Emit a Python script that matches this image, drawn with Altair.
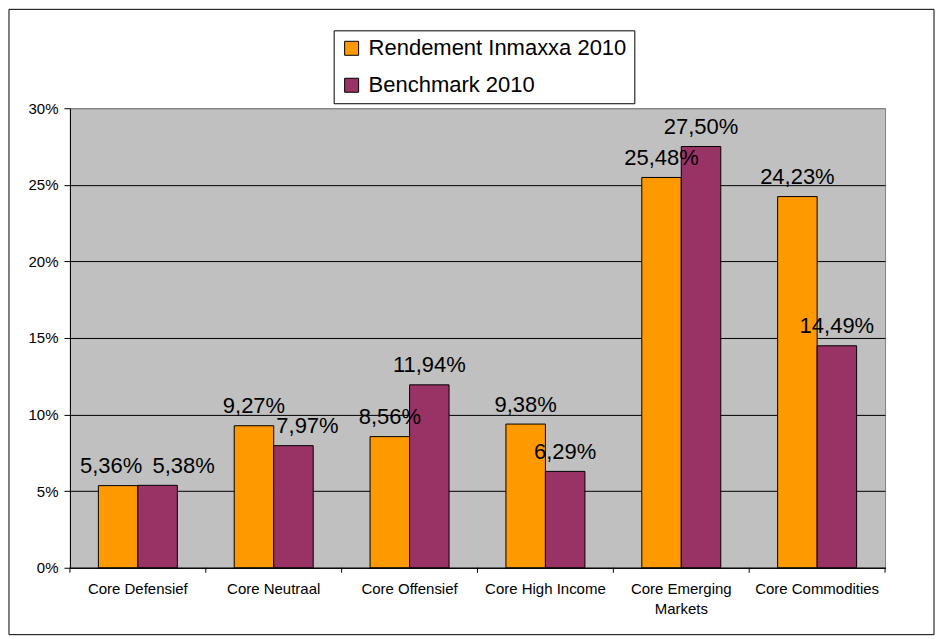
import altair as alt
import pandas as pd

categories = ["Core Defensief", "Core Neutraal", "Core Offensief",
              "Core High Income", "Core Emerging Markets", "Core Commodities"]
series = ["Rendement Inmaxxa 2010", "Benchmark 2010"]
rendement = [5.36, 9.27, 8.56, 9.38, 25.48, 24.23]
benchmark = [5.38, 7.97, 11.94, 6.29, 27.50, 14.49]
colors = ["#FF9900", "#993366"]
y_ticks = [0, 5, 10, 15, 20, 25, 30]

# manual label nudges (px), as in the original where some labels were moved
label_nudge = {
    "Core Defensief|Rendement Inmaxxa 2010": -7,
    "Core Defensief|Benchmark 2010": 26,
    "Core Neutraal|Benchmark 2010": 14,
}

rows = []
for c, r, b in zip(categories, rendement, benchmark):
    rows.append({"cat": c, "series": series[0], "value": r})
    rows.append({"cat": c, "series": series[1], "value": b})
df = pd.DataFrame(rows)
df["key"] = df["cat"] + "|" + df["series"]
catdf = pd.DataFrame({"cat": categories})

W, H = 816, 460
FONT = "Liberation Sans"

x_enc = alt.X(
    "cat:N", sort=categories,
    scale=alt.Scale(paddingInner=0, paddingOuter=0),
    axis=alt.Axis(
        title=None, labelAngle=0, ticks=False, domain=True, domainColor="black",
        labelFontSize=15, labelFont=FONT, labelColor="black", labelPadding=14,
        labelLineHeight=20, labelLimit=0, grid=False,
        labelExpr="datum.label == 'Core Emerging Markets' ? ['Core Emerging', 'Markets'] : datum.label",
    ),
)
xoff_enc = alt.XOffset(
    "series:N", sort=series,
    scale=alt.Scale(domain=series, paddingInner=0, paddingOuter=0.72),
)
y_enc = alt.Y(
    "value:Q", stack=None,
    scale=alt.Scale(domain=[0, 30], nice=False),
    axis=alt.Axis(
        values=y_ticks, title=None, labelExpr="datum.value + '%'",
        labelFontSize=15, labelFont=FONT, labelColor="black",
        tickSize=6, tickColor="black", domainColor="black", labelPadding=6,
        grid=True, gridWidth=1,
        gridColor={"condition": {"test": "datum.value == 30", "value": "#808080"}, "value": "#000000"},
    ),
)
color_enc = alt.Color(
    "series:N", sort=series,
    scale=alt.Scale(domain=series, range=colors),
    legend=alt.Legend(
        title=None, orient="none", legendX=264, legendY=-78, direction="vertical",
        strokeColor="black", fillColor="white", padding=7,
        symbolType="square", symbolSize=196, symbolStrokeColor="black",
        symbolStrokeWidth=1, labelFontSize=22, labelFont=FONT, labelColor="black",
        rowPadding=15, labelOffset=6, labelLimit=0,
    ),
)

frame = alt.Chart(pd.DataFrame({"a": [0]})).mark_rect(
    fillOpacity=0, stroke="black", strokeWidth=1
).encode(
    x=alt.value(-61), x2=alt.value(865), y=alt.value(-99), y2=alt.value(527)
)

bars = alt.Chart(df).mark_bar(stroke="black", strokeWidth=1).encode(
    x=x_enc, xOffset=xoff_enc, y=y_enc, color=color_enc
)

base_text = alt.Chart(df).transform_calculate(
    label="replace(format(datum.value, '.2f'), '.', ',') + '%'"
)
keys = list(label_nudge.keys())
keys_js = "[" + ",".join("'" + k + "'" for k in keys) + "]"
text_main = base_text.transform_filter(f"indexof({keys_js}, datum.key) < 0").mark_text(
    fontSize=22, font=FONT, color="black", baseline="alphabetic", dy=-12.5
).encode(
    x=alt.X("cat:N", sort=categories), xOffset=alt.XOffset("series:N", sort=series),
    y=alt.Y("value:Q", stack=None), text="label:N"
)
text_layers = [text_main]
for k, d in label_nudge.items():
    text_layers.append(
        base_text.transform_filter(f"datum.key == '{k}'").mark_text(
            fontSize=22, font=FONT, color="black", baseline="alphabetic", dy=-12.5, dx=d
        ).encode(
            x=alt.X("cat:N", sort=categories), xOffset=alt.XOffset("series:N", sort=series),
            y=alt.Y("value:Q", stack=None), text="label:N"
        )
    )

ticks0 = alt.Chart(catdf).mark_rule(color="black", strokeWidth=1).encode(
    x=alt.X("cat:N", sort=categories, bandPosition=0),
    y=alt.value(H), y2=alt.value(H + 5),
)
ticks1 = alt.Chart(catdf).transform_filter(
    f"datum.cat == '{categories[-1]}'"
).mark_rule(color="black", strokeWidth=1).encode(
    x=alt.X("cat:N", sort=categories, bandPosition=1),
    y=alt.value(H), y2=alt.value(H + 5),
)

chart = alt.layer(frame, bars, *text_layers, ticks0, ticks1).properties(
    width=W, height=H, padding=0, background="white"
).configure_view(
    fill="#C0C0C0", stroke="#808080", strokeWidth=1
)

chart.save("out.html", embed_options={"renderer": "svg", "actions": False})
